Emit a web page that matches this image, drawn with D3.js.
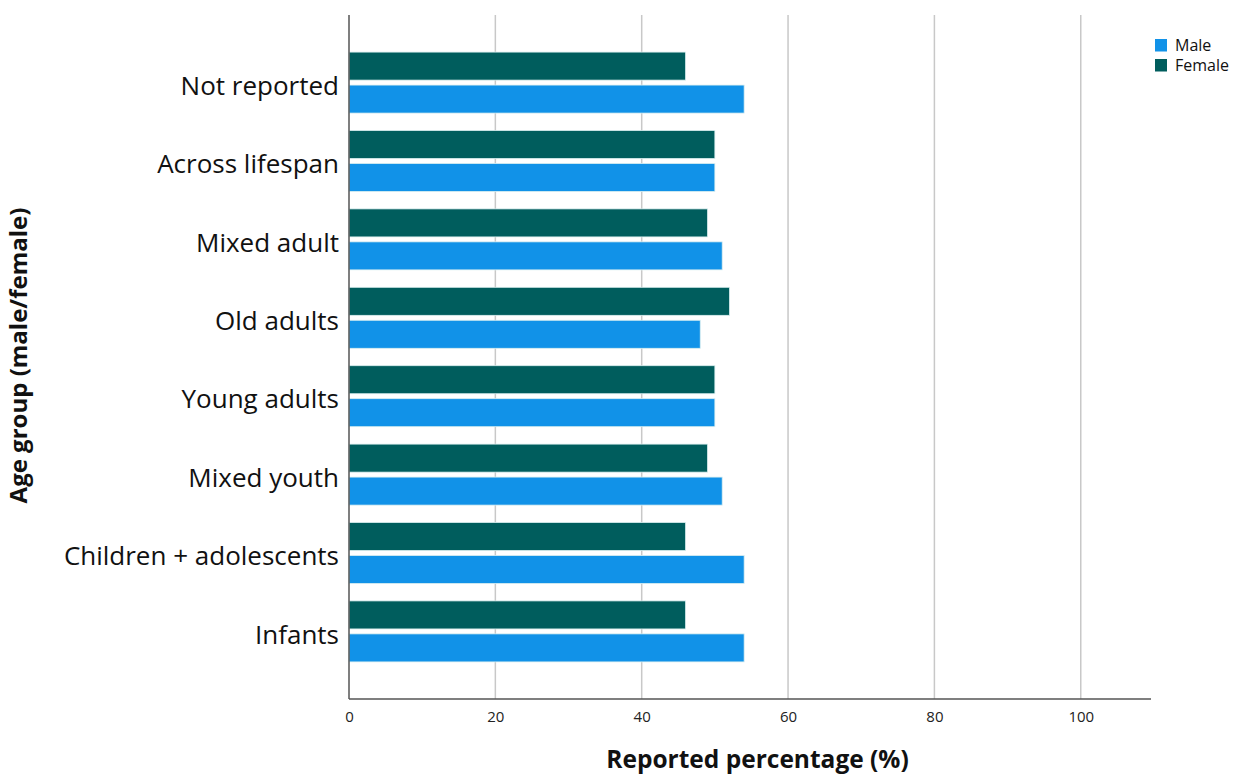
<!DOCTYPE html>
<html><head><meta charset="utf-8">
<script src="https://cdn.jsdelivr.net/npm/d3@7"></script>
<style>body{margin:0;background:#fff;} svg{display:block;}</style>
</head><body>
<svg id="chart" width="1236" height="775"></svg>
<script>
const categories = ["Not reported","Across lifespan","Mixed adult","Old adults","Young adults","Mixed youth","Children + adolescents","Infants"];
const seriesNames = ["Female","Male"];
const femaleValues = [46,50,49,52,50,49,46,46];
const maleValues = [54,50,51,48,50,51,54,54];
const xTicks = [0,20,40,60,80,100];
const legendNames = ["Male","Female"];
const colors = {Male:"#1192e8", Female:"#005d5d"};

(function(){
const svg = d3.select("#chart");
const FONT = "'Open Sans', 'Noto Sans', sans-serif";
const pl = 349, pr = 1151, pt = 15, pb = 699;
const x = d3.scaleLinear().domain([0,109.6]).range([pl,pr]);
const y = d3.scaleBand().domain(categories).range([pt,pb]).paddingInner(0.222).paddingOuter(0.473);
const sub = d3.scaleBand().domain(seriesNames).range([0,y.bandwidth()]).paddingInner(0.15);

svg.append("g").selectAll("line").data(xTicks.filter(d=>d>0)).join("line")
  .attr("x1",d=>x(d)).attr("x2",d=>x(d)).attr("y1",pt).attr("y2",pb)
  .attr("stroke","#c8c8c8").attr("stroke-width",1.5);

const data = [];
categories.forEach((c,i)=>{
  data.push({cat:c, s:"Female", v:femaleValues[i]});
  data.push({cat:c, s:"Male", v:maleValues[i]});
});
svg.append("g").selectAll("rect").data(data).join("rect")
  .attr("x",x(0)).attr("y",d=>y(d.cat)+sub(d.s))
  .attr("width",d=>x(d.v)-x(0)).attr("height",sub.bandwidth())
  .attr("fill",d=>colors[d.s]).attr("stroke","#dbeff0").attr("stroke-width",0.8);

const xAxis = svg.append("g").attr("transform",`translate(0,${pb})`)
  .call(d3.axisBottom(x).tickValues(xTicks).tickSize(0).tickPadding(12));
xAxis.select(".domain").attr("stroke","#555").attr("stroke-width",1.5).attr("d",`M${pl},0H${pr}`);
xAxis.selectAll("text").attr("font-family",FONT).attr("font-size",15).attr("fill","#222");

const yAxis = svg.append("g").attr("transform",`translate(${pl},0)`)
  .call(d3.axisLeft(y).tickSize(0).tickPadding(10));
yAxis.select(".domain").attr("stroke","#555").attr("stroke-width",1.5).attr("d",`M0,${pt}V${pb}`);
yAxis.selectAll("text").attr("font-family",FONT).attr("font-size",26).attr("dy","0.47em").attr("fill","#111");

svg.append("text").attr("x",757.5).attr("y",768).attr("text-anchor","middle")
  .attr("font-family",FONT).attr("font-weight","bold").attr("font-size",24.5)
  .attr("fill","#111").text("Reported percentage (%)");
svg.append("text").attr("transform","translate(27,355.5) rotate(-90)").attr("text-anchor","middle")
  .attr("font-family",FONT).attr("font-weight","bold").attr("font-size",24)
  .attr("fill","#111").text("Age group (male/female)");

const lg = svg.append("g").attr("transform","translate(1155,39)");
legendNames.forEach((n,i)=>{
  lg.append("rect").attr("x",0).attr("y",i*20).attr("width",12).attr("height",12.5).attr("fill",colors[n]);
  lg.append("text").attr("x",20).attr("y",i*20+12).attr("font-family",FONT)
    .attr("font-size",16).attr("fill","#111").text(n);
});
})();
</script>
</body></html>
